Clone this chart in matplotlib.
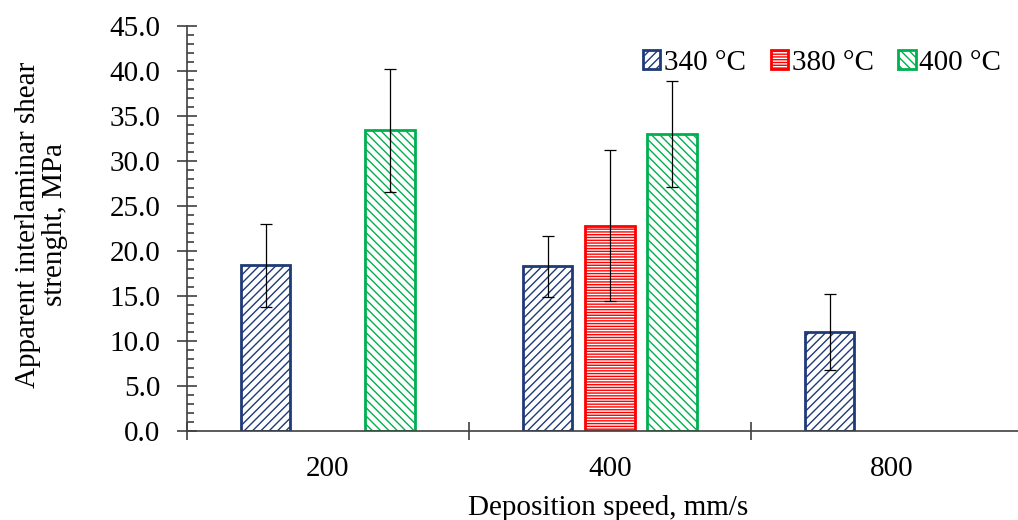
import numpy as np
import matplotlib
matplotlib.use("Agg")
import matplotlib.pyplot as plt
from matplotlib.ticker import MultipleLocator, FormatStrFormatter

# Datos
speeds = ["200", "400", "800"]
temps = ["340 °C", "380 °C", "400 °C"]
means_340 = [18.4, 18.3, 11.0]
means_380 = [np.nan, 22.8, np.nan]
means_400 = [33.4, 33.0, np.nan]
err_340 = [4.6, 3.4, 4.2]
err_380 = [np.nan, 8.4, np.nan]
err_400 = [6.8, 5.9, np.nan]

colors = ["#1F3A78", "#FF0000", "#00B050"]
hatches = ["////", "------", "\\\\\\\\"]

plt.rcParams["font.family"] = ["Liberation Serif", "DejaVu Serif"]
plt.rcParams["hatch.linewidth"] = 1.0

fig = plt.figure(figsize=(10.18, 5.2), dpi=100)
ax = fig.add_axes([187 / 1018, 1 - 431 / 520, 1 - 187 / 1018, (431 - 26) / 520])

x = np.arange(len(speeds))
offset = 0.22
width = 0.174
series = [(means_340, err_340), (means_380, err_380), (means_400, err_400)]
for i, (vals, errs) in enumerate(series):
    pos = x + (i - 1) * offset
    ax.bar(pos, vals, width, facecolor="white", edgecolor=colors[i],
           hatch=hatches[i], linewidth=2, label=temps[i], zorder=2)
    ax.errorbar(pos, vals, yerr=errs, fmt="none", ecolor="black",
                elinewidth=0.9, capsize=4.5, capthick=0.9, zorder=3)

ax.set_ylim(0, 45)
ax.set_xlim(-0.5, 2.447)
ax.yaxis.set_major_locator(MultipleLocator(5))
ax.yaxis.set_minor_locator(MultipleLocator(1))
ax.yaxis.set_major_formatter(FormatStrFormatter("%.1f"))

ax.set_xticks([-0.5, 0.5, 1.5])
ax.set_xticklabels(["", "", ""])
ax.set_xticks(x, minor=True)
ax.set_xticklabels(speeds, minor=True)

spine_col = "#404040"
for s in ["top", "right"]:
    ax.spines[s].set_visible(False)
for s in ["left", "bottom"]:
    ax.spines[s].set_color(spine_col)
    ax.spines[s].set_linewidth(1.2)

fs = 21
ax.tick_params(axis="y", which="major", direction="inout", length=14,
               width=1.2, color=spine_col, labelsize=fs, pad=12)
ax.tick_params(axis="y", which="minor", direction="in", length=5,
               width=1.2, color=spine_col)
ax.tick_params(axis="x", which="major", direction="inout", length=13,
               width=1.2, color=spine_col)
ax.tick_params(axis="x", which="minor", length=0, labelsize=fs, pad=18)

ax.set_xlabel("Deposition speed, mm/s", fontsize=fs)
ax.xaxis.set_label_coords(0.507, -0.158)
ax.set_ylabel("Apparent interlaminar shear\nstrenght, MPa", fontsize=fs,
              linespacing=1.05)
ax.yaxis.set_label_coords(-0.143, 0.51)

ax.legend(loc="upper right", bbox_to_anchor=(0.994, 0.97), ncol=3,
          frameon=False, fontsize=fs, handlelength=0.6, handleheight=0.6,
          handletextpad=0.12, columnspacing=0.85, borderaxespad=0.0)

fig.savefig("out.png", dpi=100)
plt.close(fig)
